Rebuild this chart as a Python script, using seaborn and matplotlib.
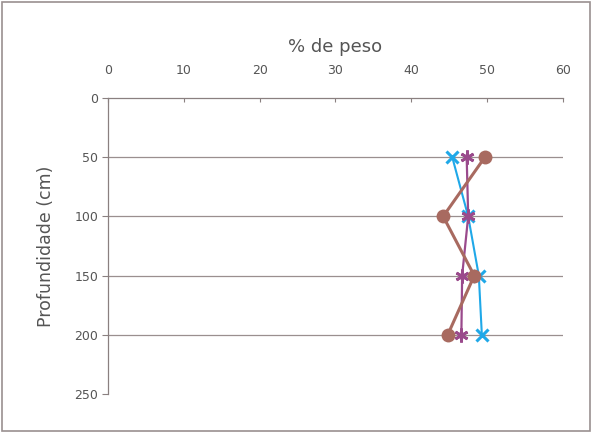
import matplotlib
matplotlib.use("Agg")
import matplotlib.pyplot as plt
import seaborn as sns
import pandas as pd
from matplotlib.patches import Rectangle

depth = [50, 100, 150, 200]
serie_circulo = [49.7, 44.2, 48.3, 44.8]
serie_x = [45.4, 47.5, 48.9, 49.3]
serie_asterisco = [47.3, 47.5, 46.7, 46.6]

x_ticks = [0, 10, 20, 30, 40, 50, 60]
y_ticks = [0, 50, 100, 150, 200, 250]

sns.set_style("white")
plt.rcParams["font.family"] = ["DejaVu Sans"]

fig = plt.figure(figsize=(5.92, 4.33), dpi=100)
ax = fig.add_axes([0.1824, 0.090, 0.7686, 0.6837])

grid_c = "#9a8f8f"
for d in depth:
    ax.axhline(d, color=grid_c, lw=0.9, zorder=0)

df_c = pd.DataFrame({"peso": serie_circulo, "prof": depth})
df_x = pd.DataFrame({"peso": serie_x, "prof": depth})
df_a = pd.DataFrame({"peso": serie_asterisco, "prof": depth})

sns.lineplot(data=df_x, x="peso", y="prof", sort=False, ax=ax, color="#1fa8e8",
             lw=1.5, marker="x", markersize=9, markeredgewidth=2.2,
             markeredgecolor="#1fa8e8", zorder=3)
sns.lineplot(data=df_a, x="peso", y="prof", sort=False, ax=ax, color="#9a4a8c",
             lw=1.6, marker=(6, 2, 0), markersize=10, markeredgewidth=2.0,
             markeredgecolor="#9a4a8c", zorder=4)
sns.lineplot(data=df_c, x="peso", y="prof", sort=False, ax=ax, color="#a86a60",
             lw=2.2, marker="o", markersize=10, markeredgewidth=0,
             zorder=5)

ax.set_xlim(0, 60)
ax.set_ylim(250, 0)
ax.set_xticks(x_ticks)
ax.set_yticks(y_ticks)
ax.xaxis.tick_top()
ax.xaxis.set_label_position("top")

axis_c = "#8a8080"
for side in ["right", "bottom"]:
    ax.spines[side].set_visible(False)
for side in ["left", "top"]:
    ax.spines[side].set_color(axis_c)
    ax.spines[side].set_linewidth(0.9)

ax.tick_params(axis="x", colors=axis_c, labelcolor="#555555", labelsize=9,
               direction="in", length=3, pad=15)
ax.tick_params(axis="y", colors=axis_c, labelcolor="#555555", labelsize=9,
               direction="out", length=4, left=True, pad=3)

ax.set_xlabel("% de peso", fontsize=13, color="#555555", labelpad=9)
ax.set_ylabel("Profundidade (cm)", fontsize=12.5, color="#555555", labelpad=14)

fig.add_artist(Rectangle((0.004, 0.004), 0.992, 0.992, transform=fig.transFigure,
                         fill=False, edgecolor="#9a9090", lw=1.2))

fig.savefig("out.png", dpi=100)
